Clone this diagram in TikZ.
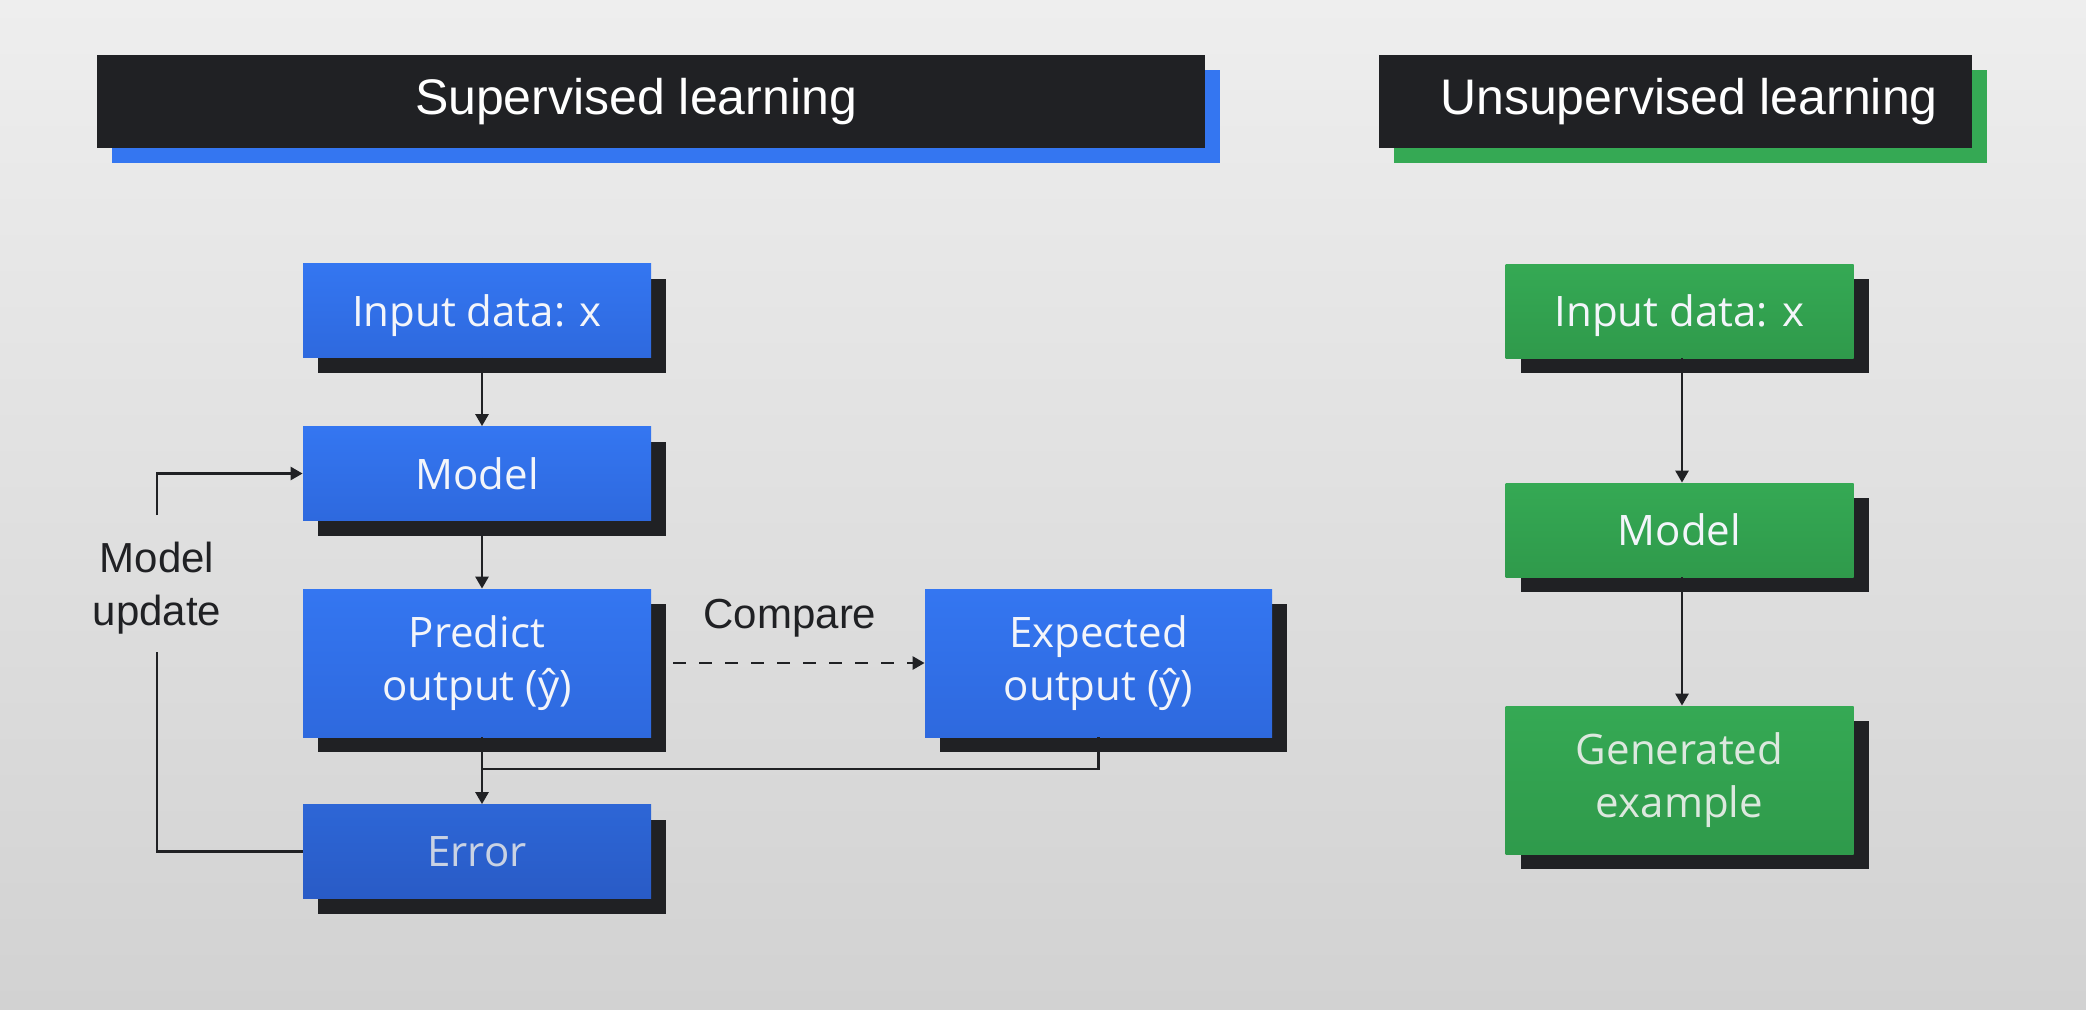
\documentclass[tikz,border=0pt]{standalone}
\usepackage{fontspec}
\setmainfont{Liberation Sans}
\newfontfamily\boxfont{Open Sans}
\usetikzlibrary{shadows,arrows.meta,calc}
\definecolor{gblue}{HTML}{3476F1}
\definecolor{gblueb}{HTML}{2E69DE}
\definecolor{errblue}{HTML}{2D66D6}
\definecolor{errblueb}{HTML}{295BC6}
\definecolor{ggreen}{HTML}{35A954}
\definecolor{ggreenb}{HTML}{2F9A4B}
\definecolor{inkdark}{HTML}{202124}
\definecolor{bgtop}{HTML}{EEEEEE}
\definecolor{bgbot}{HTML}{D2D2D2}
\definecolor{boxtext}{HTML}{F3F5FA}
\definecolor{errtext}{HTML}{C9D2E3}
\definecolor{gentext}{HTML}{DCE8DE}
\tikzset{
  box/.style={minimum width=174pt, minimum height=47pt, inner sep=0pt, align=center,
    font=\boxfont\fontsize{21}{26.5}\selectfont, text=boxtext,
    drop shadow={shadow xshift=7.5pt, shadow yshift=-7.5pt, opacity=1, fill=inkdark}},
  tallbox/.style={minimum height=74pt},
  nodepth/.style={text depth=0pt},
  bluebox/.style={box, top color=gblue, bottom color=gblueb},
  errbox/.style={box, top color=errblue, bottom color=errblueb, text=errtext},
  greenbox/.style={box, top color=ggreen, bottom color=ggreenb},
  titlebar/.style={minimum height=46.5pt, inner sep=0pt, fill=inkdark, text=white,
    font=\fontsize{25}{30}\selectfont},
  blueshadow/.style={drop shadow={shadow xshift=7.5pt, shadow yshift=-7.5pt, opacity=1, fill=gblue}},
  greenshadow/.style={drop shadow={shadow xshift=7.5pt, shadow yshift=-7.5pt, opacity=1, fill=ggreen}},
  arr/.style={-{Triangle[length=6pt,width=6.5pt]}, line width=1.3pt, draw=inkdark},
  plain/.style={line width=1.3pt, draw=inkdark},
  lbl/.style={text=inkdark, align=center, font=\fontsize{21}{26.5}\selectfont, inner sep=0pt}
}
\begin{document}
\begin{tikzpicture}[x=0.5pt,y=-0.5pt]
  % background
  \shade[top color=bgtop, bottom color=bgbot] (0,0) rectangle (2086,1009);
  \useasboundingbox (0,0) rectangle (2086,1009);

  % titles
  \node[titlebar, blueshadow, minimum width=554pt] (sTitle) at (651,101.5) {Supervised learning\kern15pt};
  \node[titlebar, greenshadow, minimum width=296.5pt] (uTitle) at (1675.5,101.5) {\kern13.5pt Unsupervised learning};

  % supervised column
  \coordinate (colx) at (482,0);
  \node[bluebox, nodepth] (sIn) at (477,310.5) {Input data: x};
  \node[bluebox] (sModel) at (477,473.5) {Model};
  \node[bluebox, tallbox] (sPred) at (477,663) {Predict\\output (ŷ)};
  \node[errbox] (sErr) at (477,851.5) {Error};
  \node[bluebox, tallbox, minimum width=173.5pt] (sExp) at (1098.5,663) {Expected\\output (ŷ)};

  \draw[arr] (sIn.south -| colx) -- (sModel.north -| colx);
  \draw[arr] (sModel.south -| colx) -- (sPred.north -| colx);
  \draw[arr] (sPred.south -| colx) -- (sErr.north -| colx);
  \coordinate (merge) at (482,769);
  \draw[plain] (sExp.south) |- (merge);

  \coordinate (cmpStart) at (673,663);
  \draw[arr, dash pattern=on 6.5pt off 6.5pt] (cmpStart) -- (sExp.west);
  \node[lbl] (cmpLbl) at (790,618) {Compare};

  \node[lbl] (updLbl) at (157,588) {Model\\update};
  \coordinate (fbTop) at (157,515);
  \coordinate (fbBot) at (157,652);
  \draw[arr] (fbTop) |- (sModel.west);
  \draw[plain] (sErr.west) -| (fbBot);

  % unsupervised column
  \coordinate (ucolx) at (1682,0);
  \node[greenbox, nodepth] (uIn) at (1679.5,311) {Input data: x};
  \node[greenbox] (uModel) at (1679.5,530) {Model};
  \node[greenbox, tallbox, text=gentext] (uGen) at (1679.5,780) {Generated\\example};
  \draw[arr] (uIn.south -| ucolx) -- (uModel.north -| ucolx);
  \draw[arr] (uModel.south -| ucolx) -- (uGen.north -| ucolx);
\end{tikzpicture}
\end{document}
